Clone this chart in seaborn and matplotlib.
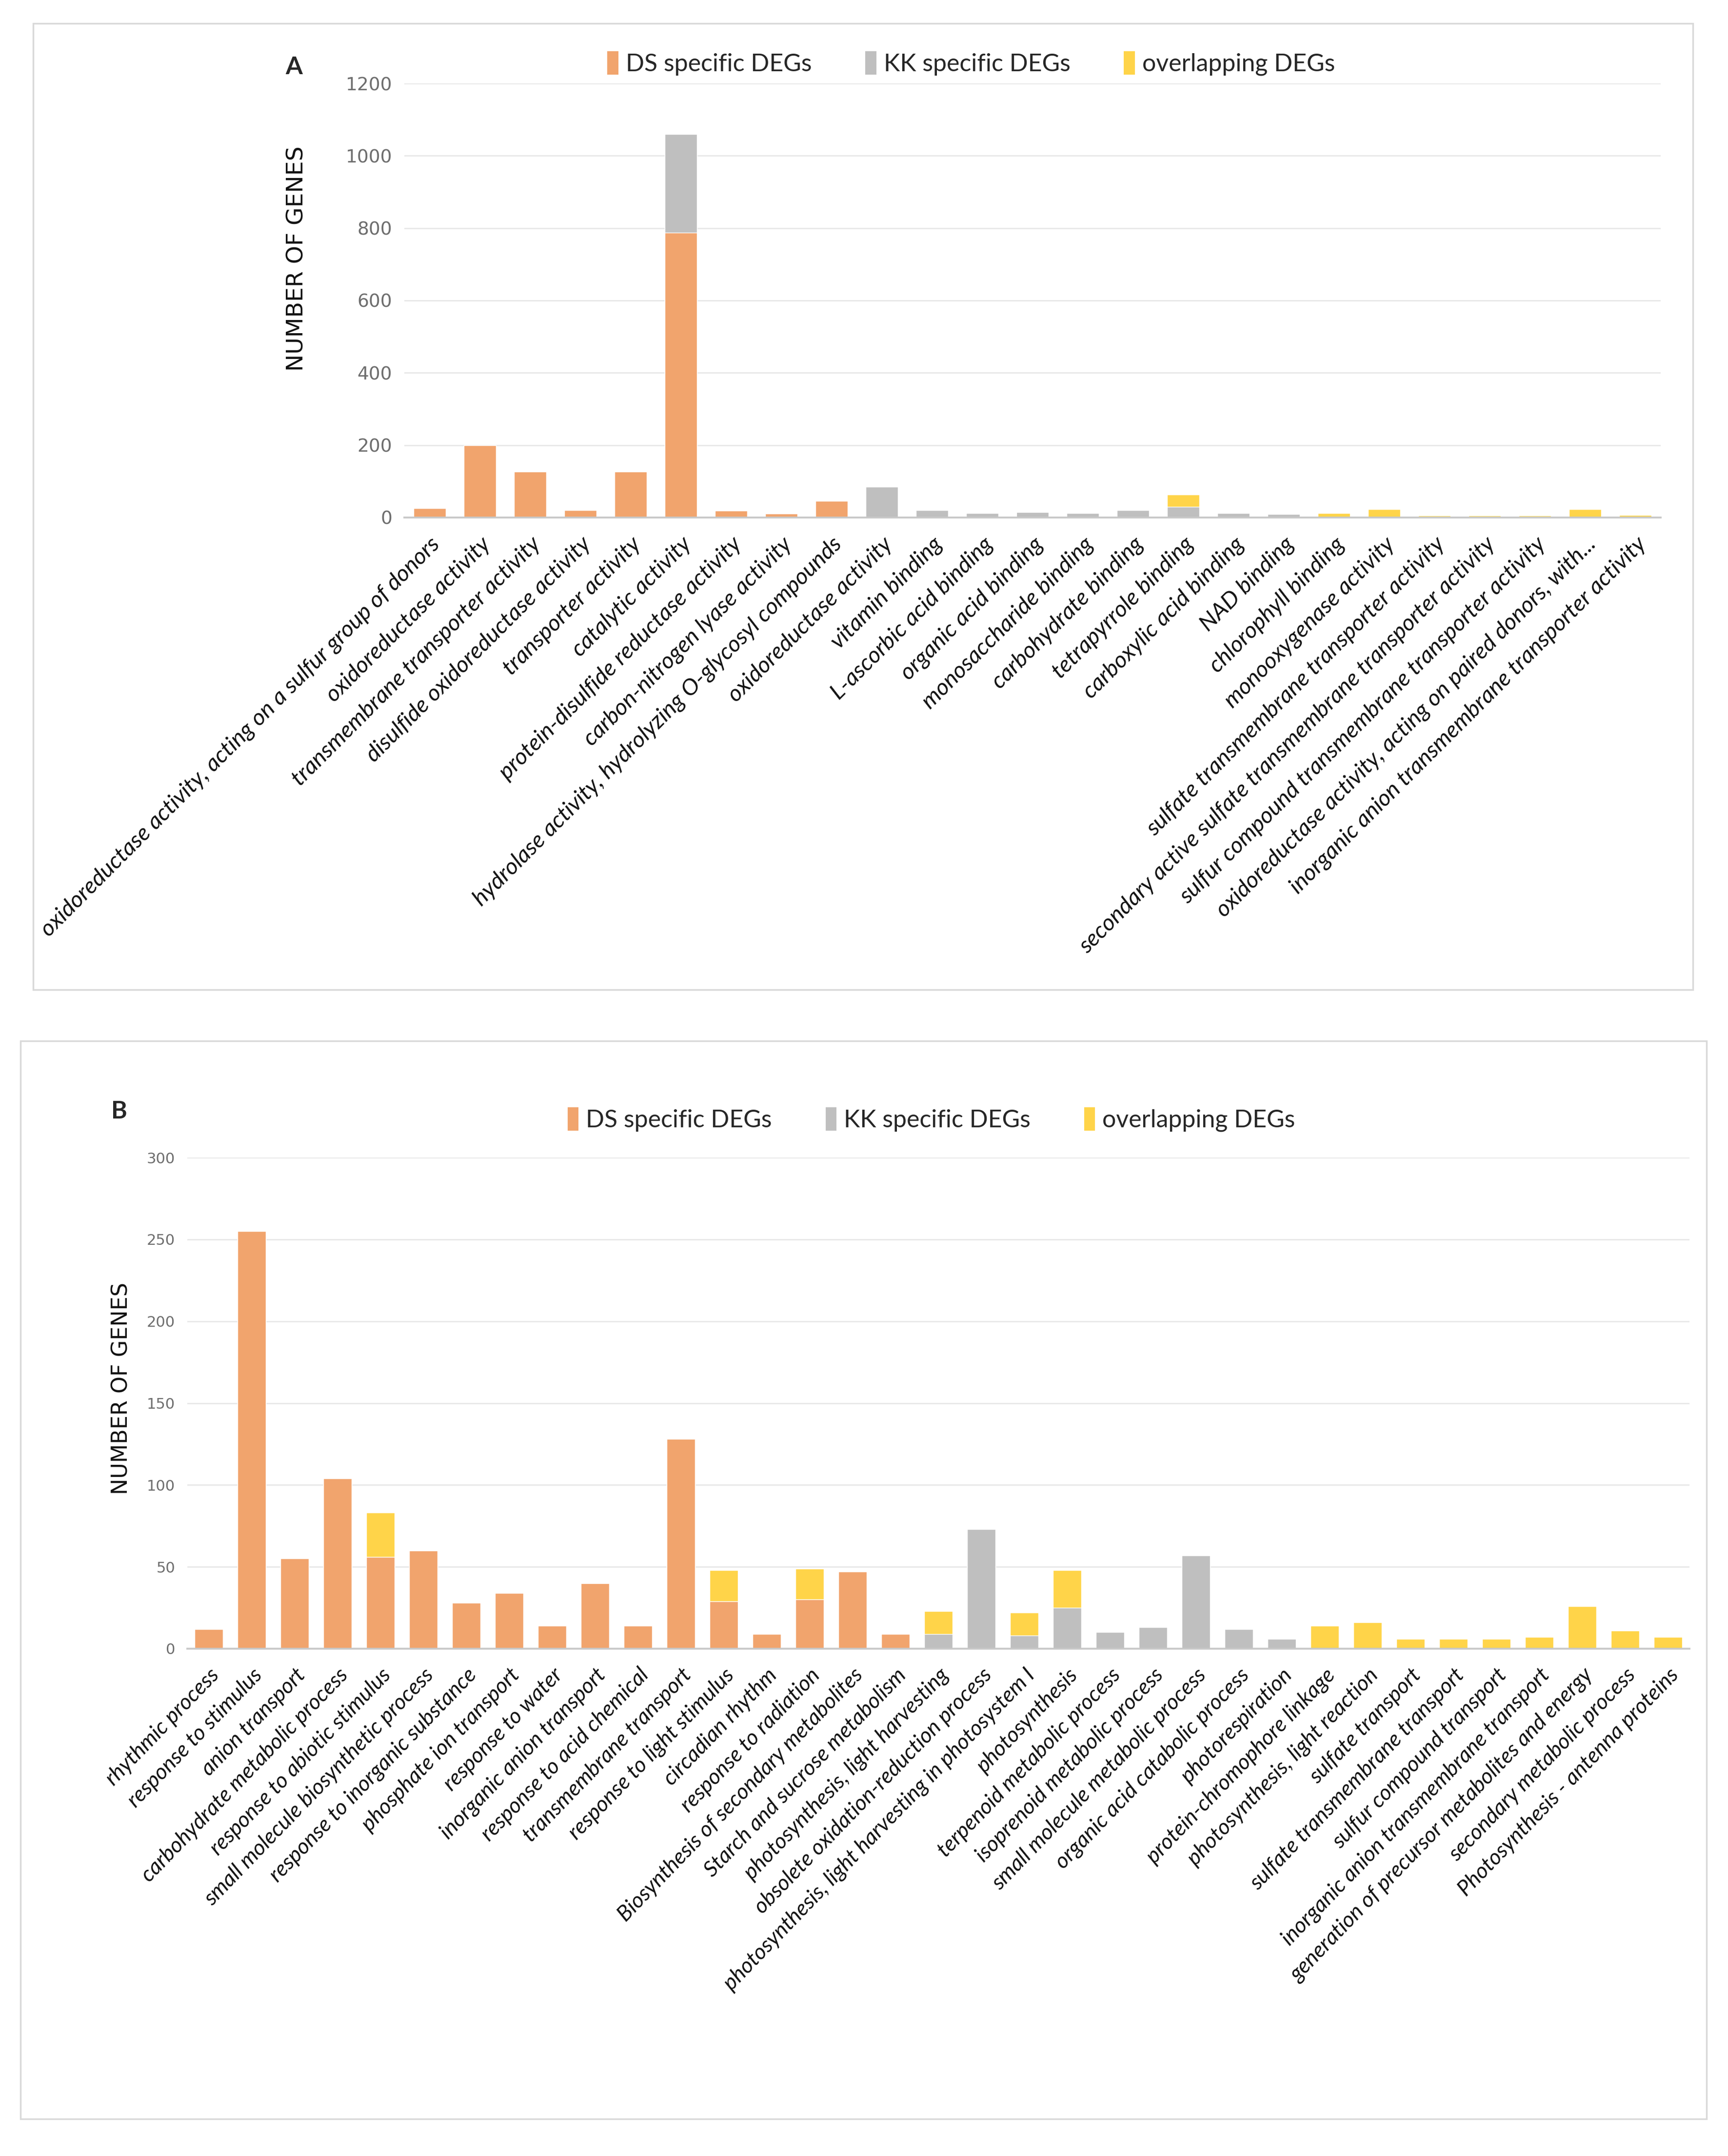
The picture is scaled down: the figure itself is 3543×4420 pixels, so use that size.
import numpy as np
import seaborn as sns
import matplotlib.pyplot as plt
from matplotlib.patches import Patch, Rectangle

# panel A: GO molecular function
labels_a = [
    'oxidoreductase activity, acting on a sulfur group of donors',
    'oxidoreductase activity',
    'transmembrane transporter activity',
    'disulfide oxidoreductase activity',
    'transporter activity',
    'catalytic activity',
    'protein-disulfide reductase activity',
    'carbon-nitrogen lyase activity',
    'hydrolase activity, hydrolyzing O-glycosyl compounds',
    'oxidoreductase activity',
    'vitamin binding',
    'L-ascorbic acid binding',
    'organic acid binding',
    'monosaccharide binding',
    'carbohydrate binding',
    'tetrapyrrole binding',
    'carboxylic acid binding',
    'NAD binding',
    'chlorophyll binding',
    'monooxygenase activity',
    'sulfate transmembrane transporter activity',
    'secondary active sulfate transmembrane transporter activity',
    'sulfur compound transmembrane transporter activity',
    'oxidoreductase activity, acting on paired donors, with...',
    'inorganic anion transmembrane transporter activity',
]
ds_a = [25, 200, 127, 20, 127, 788, 18, 10, 45, 0, 0, 0, 0, 0, 0, 0, 0, 0, 0, 0, 0, 0, 0, 0, 0]
kk_a = [0, 0, 0, 0, 0, 272, 0, 0, 0, 85, 20, 12, 15, 12, 20, 30, 12, 9, 0, 0, 0, 0, 0, 0, 0]
ov_a = [0, 0, 0, 0, 0, 0, 0, 0, 0, 0, 0, 0, 0, 0, 0, 33, 0, 0, 12, 22, 5, 5, 5, 22, 7]

# panel B: GO biological process / KEGG
labels_b = [
    'rhythmic process',
    'response to stimulus',
    'anion transport',
    'carbohydrate metabolic process',
    'response to abiotic stimulus',
    'small molecule biosynthetic process',
    'response to inorganic substance',
    'phosphate ion transport',
    'response to water',
    'inorganic anion transport',
    'response to acid chemical',
    'transmembrane transport',
    'response to light stimulus',
    'circadian rhythm',
    'response to radiation',
    'Biosynthesis of secondary metabolites',
    'Starch and sucrose metabolism',
    'photosynthesis, light harvesting',
    'obsolete oxidation-reduction process',
    'photosynthesis, light harvesting in photosystem I',
    'photosynthesis',
    'terpenoid metabolic process',
    'isoprenoid metabolic process',
    'small molecule metabolic process',
    'organic acid catabolic process',
    'photorespiration',
    'protein-chromophore linkage',
    'photosynthesis, light reaction',
    'sulfate transport',
    'sulfate transmembrane transport',
    'sulfur compound transport',
    'inorganic anion transmembrane transport',
    'generation of precursor metabolites and energy',
    'secondary metabolic process',
    'Photosynthesis - antenna proteins',
]
ds_b = [12, 255, 55, 104, 56, 60, 28, 34, 14, 40, 14, 128, 29, 9, 30, 47, 9,
        0, 0, 0, 0, 0, 0, 0, 0, 0, 0, 0, 0, 0, 0, 0, 0, 0, 0]
kk_b = [0, 0, 0, 0, 0, 0, 0, 0, 0, 0, 0, 0, 0, 0, 0, 0, 0,
        9, 73, 8, 25, 10, 13, 57, 12, 6, 0, 0, 0, 0, 0, 0, 0, 0, 0]
ov_b = [0, 0, 0, 0, 27, 0, 0, 0, 0, 0, 0, 0, 19, 0, 19, 0, 0,
        14, 0, 14, 23, 0, 0, 0, 0, 0, 14, 16, 6, 6, 6, 7, 26, 11, 7]

series_names = ['DS specific DEGs', 'KK specific DEGs', 'overlapping DEGs']
ORANGE = '#F1A46D'
GREY = '#BFBFBF'
YELLOW = '#FFD449'

sns.set_theme(style='white')
plt.rcParams['font.family'] = ['Lato', 'DejaVu Sans']

fig = plt.figure(figsize=(35.43, 44.20), dpi=100)

# panel frames
fig.patches.append(Rectangle((0.0192, 0.541), 0.9605, 0.4482, transform=fig.transFigure,
                             fill=False, edgecolor='#D9D9D9', linewidth=2.5, zorder=0))
fig.patches.append(Rectangle((0.0119, 0.0172), 0.9757, 0.5000, transform=fig.transFigure,
                             fill=False, edgecolor='#D9D9D9', linewidth=2.5, zorder=0))


def stacked(ax, labels, ds, kk, ov, ymax, step, bar_w, tick_fs, lab_fs, rot):
    ds = np.array(ds)
    kk = np.array(kk)
    ov = np.array(ov)
    x = np.arange(len(labels))
    # draw cumulative heights so the segments stack DS -> KK -> overlap
    sns.barplot(x=x, y=ds + kk + ov, color=YELLOW, width=bar_w, saturation=1, ax=ax, zorder=2)
    sns.barplot(x=x, y=ds + kk, color=GREY, width=bar_w, saturation=1, ax=ax, zorder=3)
    sns.barplot(x=x, y=ds, color=ORANGE, width=bar_w, saturation=1, ax=ax, zorder=4)
    ax.set_ylim(0, ymax)
    ax.set_yticks(np.arange(0, ymax + 1, step))
    ax.set_xlim(-0.5, len(labels) - 0.5)
    ax.yaxis.grid(True, color='#E8E8E8', linewidth=2, zorder=0)
    ax.set_axisbelow(True)
    for s in ['top', 'right', 'left']:
        ax.spines[s].set_visible(False)
    ax.spines['bottom'].set_color('#C8C8C8')
    ax.spines['bottom'].set_linewidth(2.7)
    ax.spines['bottom'].set_zorder(5)
    ax.tick_params(axis='both', length=0)
    ax.tick_params(axis='y', labelsize=tick_fs, labelcolor='#6E6E6E', pad=18)
    for t in ax.get_yticklabels():
        t.set_family(['Liberation Sans Narrow', 'DejaVu Sans'])
    ax.set_xticks(x)
    ax.set_xticklabels(labels, rotation=rot, ha='right', rotation_mode='anchor',
                       fontsize=lab_fs, style='italic', color='#111111')
    ax.tick_params(axis='x', pad=24)
    ax.set_xlabel('')
    ax.set_ylabel('')


handles = [Patch(facecolor=c, edgecolor='none') for c in [ORANGE, GREY, YELLOW]]

# ---- panel A ----
ax_a = fig.add_axes([0.234, 0.760, 0.727, 0.2013])
stacked(ax_a, labels_a, ds_a, kk_a, ov_a, 1200, 200, 0.64, 27, 34, 45)
fig.legend(handles, series_names, loc='center', bbox_to_anchor=(0.562, 0.9706), ncol=3,
           frameon=False, fontsize=36, handlelength=0.45, handleheight=1.1,
           handletextpad=0.3, columnspacing=2.2)
fig.text(0.170, 0.969, 'A', fontsize=36, fontweight='bold', ha='center', va='center')
fig.text(0.172, 0.880, 'NUMBER OF GENES', rotation=90, fontsize=34, ha='center', va='center',
         family=['DejaVu Sans'], color='#111111')

# ---- panel B ----
ax_b = fig.add_axes([0.1084, 0.2353, 0.8693, 0.2278])
stacked(ax_b, labels_b, ds_b, kk_b, ov_b, 300, 50, 0.66, 22, 32, 46)
fig.legend(handles, series_names, loc='center', bbox_to_anchor=(0.539, 0.4808), ncol=3,
           frameon=False, fontsize=36, handlelength=0.45, handleheight=1.1,
           handletextpad=0.3, columnspacing=2.2)
fig.text(0.0689, 0.4844, 'B', fontsize=36, fontweight='bold', ha='center', va='center')
fig.text(0.0703, 0.356, 'NUMBER OF GENES', rotation=90, fontsize=32, ha='center', va='center',
         family=['DejaVu Sans'], color='#111111')

fig.savefig('out.png', dpi=100, facecolor='white')
